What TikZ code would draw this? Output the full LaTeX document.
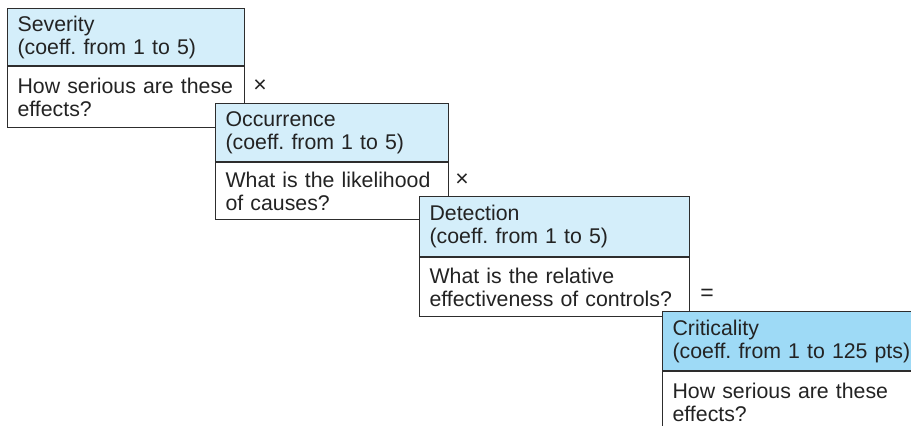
\documentclass[tikz,border=0pt]{standalone}
\usepackage{fontspec}
\setmainfont{Liberation Sans}
\frenchspacing
\definecolor{hdrblue}{RGB}{212,238,250}
\definecolor{critblue}{RGB}{158,218,246}
\definecolor{edge}{RGB}{45,45,45}
\definecolor{ink}{RGB}{35,35,35}

\begin{document}
\begin{tikzpicture}[x=1pt,y=-1pt,
  cell/.style={draw=edge, line width=1.2pt, anchor=north west,
    inner xsep=10pt, inner ysep=0pt, align=left, text=ink,
    font=\fontsize{21.3}{23}\selectfont},
  head/.style={cell, fill=hdrblue},
  crithead/.style={cell, fill=critblue},
  body/.style={cell, fill=white},
  op/.style={text=ink, font=\fontsize{23}{25}\selectfont, inner sep=0pt}
]
\clip (0,0) rectangle (911,426);
\useasboundingbox (0,0) rectangle (911,426);

% Severity
\node[head, text width=217pt, minimum height=57pt] (sevH) at (7,8)
  {Severity\\(coeff. from 1 to 5)};
\node[body, text width=217pt, minimum height=61pt] (sevB) at (sevH.south west)
  {How serious are these\\effects?};
\node[op] (times1) at (260,86) {×};

% Occurrence
\node[head, text width=213pt, minimum height=58pt] (occH) at (215,103)
  {Occurrence\\(coeff. from 1 to 5)};
\node[body, text width=213pt, minimum height=57pt] (occB) at (occH.south west)
  {What is the likelihood\\of causes?};
\node[op] (times2) at (462,180) {×};

% Detection
\node[head, text width=250pt, minimum height=60pt] (detH) at (419,196)
  {Detection\\(coeff. from 1 to 5)};
\node[body, text width=250pt, minimum height=59pt] (detB) at (detH.south west)
  {What is the relative\\effectiveness of controls?};
\node[op] (equals) at (707,295) {=};

% Criticality
\node[crithead, text width=250pt, minimum height=59pt] (critH) at (662,311)
  {Criticality\\(coeff. from 1 to 125 pts)};
\node[body, text width=250pt, minimum height=61pt] (critB) at (critH.south west)
  {How serious are these\\effects?};
\end{tikzpicture}
\end{document}
